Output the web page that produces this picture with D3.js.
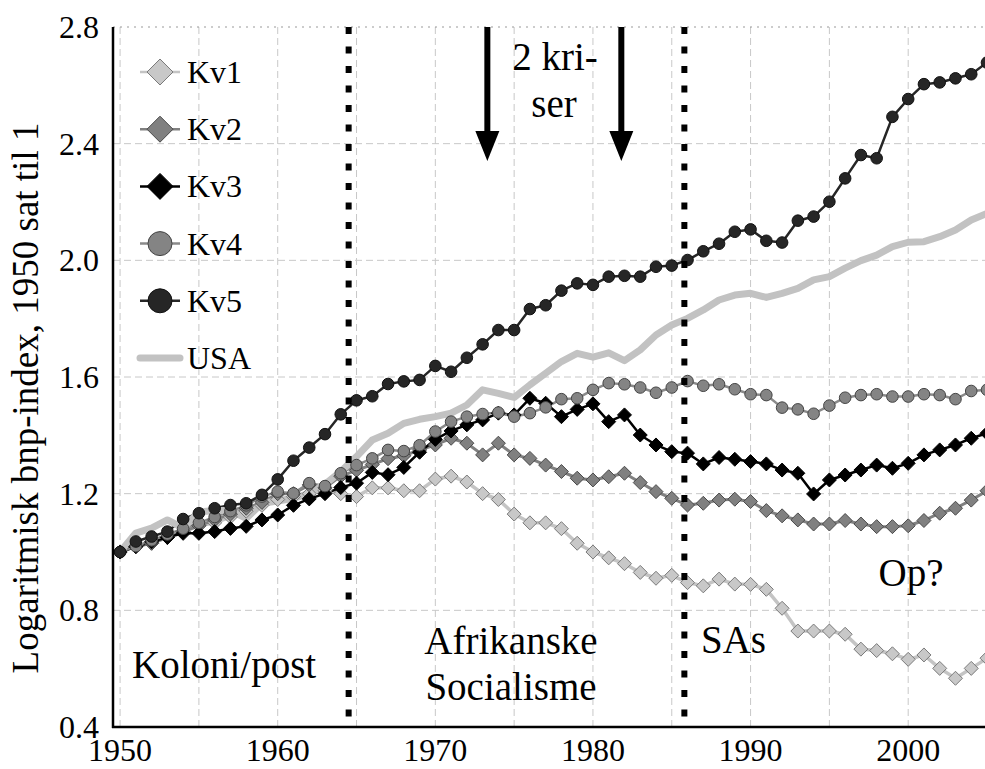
<!DOCTYPE html>
<html>
<head>
<meta charset="utf-8">
<script src="https://cdn.jsdelivr.net/npm/d3@7"></script>
</head>
<body style="margin:0">
<svg></svg>
<script>
// Years on the x axis
var years = d3.range(1950, 2006);

// Series values, one per year, 1950 = 1
var kv1 = [1.00, 1.02, 1.03, 1.05, 1.07, 1.09, 1.10, 1.12, 1.14, 1.16,
  1.18, 1.19, 1.20, 1.21, 1.20, 1.19, 1.22, 1.22, 1.21, 1.21,
  1.25, 1.26, 1.24, 1.20, 1.18, 1.13, 1.10, 1.10, 1.08, 1.03,
  1.00, 0.98, 0.96, 0.93, 0.91, 0.92, 0.895, 0.884, 0.907, 0.89,
  0.889, 0.872, 0.807, 0.729, 0.729, 0.729, 0.718, 0.667, 0.662, 0.651,
  0.632, 0.647, 0.601, 0.567, 0.601, 0.636];
var kv2 = [1.00, 1.02, 1.03, 1.05, 1.07, 1.09, 1.11, 1.13, 1.15, 1.17,
  1.20, 1.20, 1.23, 1.22, 1.26, 1.28, 1.30, 1.32, 1.33, 1.35,
  1.367, 1.39, 1.373, 1.333, 1.373, 1.333, 1.321, 1.298, 1.276, 1.253,
  1.247, 1.258, 1.27, 1.238, 1.207, 1.184, 1.161, 1.167, 1.178, 1.181,
  1.173, 1.142, 1.124, 1.110, 1.096, 1.096, 1.108, 1.096, 1.087, 1.087,
  1.090, 1.108, 1.133, 1.150, 1.178, 1.210];
var kv3 = [1.00, 1.018, 1.035, 1.05, 1.064, 1.064, 1.07, 1.081, 1.088, 1.11,
  1.127, 1.16, 1.182, 1.20, 1.221, 1.236, 1.273, 1.265, 1.29, 1.342,
  1.386, 1.415, 1.436, 1.453, 1.476, 1.47, 1.527, 1.51, 1.464, 1.489,
  1.508, 1.447, 1.47, 1.401, 1.367, 1.344, 1.339, 1.302, 1.324, 1.318,
  1.310, 1.302, 1.281, 1.270, 1.199, 1.247, 1.264, 1.281, 1.298, 1.287,
  1.304, 1.333, 1.350, 1.367, 1.390, 1.407];
var kv4 = [1.00, 1.02, 1.04, 1.06, 1.08, 1.10, 1.12, 1.14, 1.16, 1.19,
  1.207, 1.201, 1.236, 1.226, 1.27, 1.298, 1.321, 1.35, 1.346, 1.366,
  1.413, 1.447, 1.464, 1.473, 1.478, 1.464, 1.476, 1.496, 1.524, 1.527,
  1.556, 1.579, 1.575, 1.564, 1.546, 1.564, 1.586, 1.570, 1.575, 1.558,
  1.541, 1.538, 1.495, 1.489, 1.474, 1.502, 1.529, 1.538, 1.541, 1.533,
  1.533, 1.541, 1.538, 1.524, 1.552, 1.556];
var kv5 = [1.00, 1.036, 1.053, 1.07, 1.113, 1.133, 1.15, 1.161, 1.167, 1.196,
  1.249, 1.313, 1.358, 1.404, 1.472, 1.52, 1.534, 1.576, 1.585, 1.59,
  1.638, 1.618, 1.666, 1.712, 1.761, 1.761, 1.833, 1.846, 1.896, 1.921,
  1.916, 1.944, 1.947, 1.944, 1.978, 1.982, 2.001, 2.031, 2.057, 2.098,
  2.106, 2.067, 2.061, 2.136, 2.150, 2.201, 2.281, 2.361, 2.350, 2.492,
  2.553, 2.604, 2.610, 2.624, 2.638, 2.678];
var usa = [1.00, 1.065, 1.082, 1.110, 1.082, 1.137, 1.142, 1.142, 1.115, 1.167,
  1.175, 1.184, 1.201, 1.232, 1.276, 1.327, 1.384, 1.407, 1.441, 1.455,
  1.464, 1.476, 1.504, 1.556, 1.544, 1.530, 1.573, 1.613, 1.653, 1.681,
  1.668, 1.683, 1.656, 1.693, 1.744, 1.778, 1.801, 1.830, 1.864, 1.881,
  1.887, 1.873, 1.887, 1.904, 1.933, 1.944, 1.973, 1.999, 2.018, 2.047,
  2.062, 2.064, 2.081, 2.104, 2.138, 2.161];

// Axis ticks
var xTicks = [1950, 1960, 1970, 1980, 1990, 2000];
var xGrid = d3.range(1950, 2006, 5);
var yTicks = [0.4, 0.8, 1.2, 1.6, 2.0, 2.4, 2.8];

// Period breaks and crisis years
var breaks = [1964.5, 1985.8];
var crises = [1973.3, 1981.8];

// Series look
var series = [
  {name: "Kv1", values: kv1, line: "#c4c4c4", lw: 3.5, marker: "diamond", fill: "#c8c8c8", stroke: "#7a7a7a"},
  {name: "Kv2", values: kv2, line: "#808080", lw: 3, marker: "diamond", fill: "#808080", stroke: "#4a4a4a"},
  {name: "Kv3", values: kv3, line: "#000000", lw: 2.5, marker: "diamond", fill: "#000000", stroke: "#000000"},
  {name: "Kv4", values: kv4, line: "#8a8a8a", lw: 2.5, marker: "circle", fill: "#848484", stroke: "#444444"},
  {name: "Kv5", values: kv5, line: "#262626", lw: 2.5, marker: "circle", fill: "#262626", stroke: "#111111"},
  {name: "USA", values: usa, line: "#c2c2c2", lw: 7, marker: null}
];

var width = 985;
var height = 769;
var svg = d3.select("svg")
  .attr("width", width)
  .attr("height", height);

var x = d3.scaleLinear().domain([1949.55, 2005]).range([113, 987]);
var y = d3.scaleLinear().domain([0.4, 2.8]).range([727, 27]);

// Every text in a Times-like face
function addText(parent) {
  return parent.append("text")
    .attr("font-family", "Liberation Serif")
    .style("font-family", "'Liberation Serif'");
}

// Grid
svg.selectAll(".vgrid")
  .data(xGrid)
  .enter()
  .append("line")
    .attr("x1", function(d) { return x(d); })
    .attr("x2", function(d) { return x(d); })
    .attr("y1", y(2.8))
    .attr("y2", y(0.4))
    .attr("stroke", "#c8c8c8")
    .attr("stroke-width", 1)
    .attr("stroke-dasharray", "7,4");

svg.selectAll(".hgrid")
  .data(yTicks.slice(1, -1))
  .enter()
  .append("line")
    .attr("x1", x(1949.55))
    .attr("x2", width)
    .attr("y1", function(d) { return y(d); })
    .attr("y2", function(d) { return y(d); })
    .attr("stroke", "#c8c8c8")
    .attr("stroke-width", 1)
    .attr("stroke-dasharray", "7,4");

// Top border, dotted
svg.append("line")
  .attr("x1", x(1949.55))
  .attr("x2", width)
  .attr("y1", y(2.8))
  .attr("y2", y(2.8))
  .attr("stroke", "#999")
  .attr("stroke-width", 1)
  .attr("stroke-dasharray", "2,5");

// Lines first, then markers
var line = d3.line()
  .x(function(d, i) { return x(years[i]); })
  .y(function(d) { return y(d); });

series.forEach(function(s) {
  svg.append("path")
    .attr("d", line(s.values))
    .attr("fill", "none")
    .attr("stroke", s.line)
    .attr("stroke-width", s.lw)
    .attr("stroke-linejoin", "round");
});

function drawMarker(g, s, cx, cy, big) {
  if (s.marker == "diamond") {
    var r = big ? 13 : 7;
    g.append("path")
      .attr("d", "M" + cx + "," + (cy - r) + "L" + (cx + r) + "," + cy + "L" + cx + "," + (cy + r) + "L" + (cx - r) + "," + cy + "Z")
      .attr("fill", s.fill)
      .attr("stroke", s.stroke)
      .attr("stroke-width", 1);
  } else if (s.marker == "circle") {
    g.append("circle")
      .attr("cx", cx)
      .attr("cy", cy)
      .attr("r", big ? 12 : 5.8)
      .attr("fill", s.fill)
      .attr("stroke", s.stroke)
      .attr("stroke-width", 1);
  }
}

series.forEach(function(s) {
  if (!s.marker) return;
  var g = svg.append("g");
  s.values.forEach(function(v, i) {
    drawMarker(g, s, x(years[i]), y(v), false);
  });
});

// Period break lines
svg.selectAll(".break")
  .data(breaks)
  .enter()
  .append("line")
    .attr("x1", function(d) { return x(d); })
    .attr("x2", function(d) { return x(d); })
    .attr("y1", y(2.8))
    .attr("y2", y(0.4))
    .attr("stroke", "#000")
    .attr("stroke-width", 6)
    .attr("stroke-dasharray", "7,12.5");

// Crisis arrows
crises.forEach(function(c) {
  var cx = x(c);
  svg.append("line")
    .attr("x1", cx).attr("x2", cx)
    .attr("y1", y(2.8)).attr("y2", 136)
    .attr("stroke", "#000")
    .attr("stroke-width", 6);
  svg.append("path")
    .attr("d", "M" + (cx - 12) + ",131L" + (cx + 12) + ",131L" + cx + ",161Z")
    .attr("fill", "#000");
});

// Axes
svg.append("line")
  .attr("x1", 113).attr("x2", 113)
  .attr("y1", y(2.8)).attr("y2", y(0.4) + 1)
  .attr("stroke", "#000").attr("stroke-width", 2.5);
svg.append("line")
  .attr("x1", 112).attr("x2", width)
  .attr("y1", y(0.4)).attr("y2", y(0.4))
  .attr("stroke", "#000").attr("stroke-width", 2.5);

yTicks.forEach(function(d) {
  addText(svg)
    .attr("x", 99)
    .attr("y", y(d) + 11)
    .attr("text-anchor", "end")
    .attr("font-size", 32)
    .text(d3.format(".1f")(d));
});

xTicks.forEach(function(d) {
  addText(svg)
    .attr("x", x(d))
    .attr("y", 761)
    .attr("text-anchor", "middle")
    .attr("font-size", 32)
    .text(d);
});

addText(svg)
  .attr("transform", "translate(38,398)rotate(-90)")
  .attr("text-anchor", "middle")
  .attr("font-size", 37)
  .text("Logaritmisk bnp-index, 1950 sat til 1");

// Legend
series.forEach(function(s, i) {
  var ly = 72 + i * 57.2;
  var g = svg.append("g");
  g.append("line")
    .attr("x1", 140).attr("x2", 180)
    .attr("y1", ly).attr("y2", ly)
    .attr("stroke", s.line)
    .attr("stroke-width", s.marker ? 2.5 : 7)
    .attr("stroke-linecap", s.marker ? "butt" : "round");
  drawMarker(g, s, 160, ly, true);
  addText(g)
    .attr("x", 187)
    .attr("y", ly + 11)
    .attr("font-size", 32)
    .text(s.name);
});

// Annotations
var notes = [
  {text: "Koloni/post", x: 132, y: 678, anchor: "start"},
  {text: "Afrikanske", x: 511, y: 654, anchor: "middle"},
  {text: "Socialisme", x: 511, y: 700, anchor: "middle"},
  {text: "SAs", x: 701, y: 653, anchor: "start"},
  {text: "Op?", x: 911, y: 586, anchor: "middle"},
  {text: "2 kri-", x: 555, y: 70, anchor: "middle"},
  {text: "ser", x: 554, y: 117, anchor: "middle"}
];

notes.forEach(function(d) {
  addText(svg)
    .attr("x", d.x)
    .attr("y", d.y)
    .attr("text-anchor", d.anchor)
    .attr("font-size", 39)
    .text(d.text);
});
</script>
</body>
</html>
